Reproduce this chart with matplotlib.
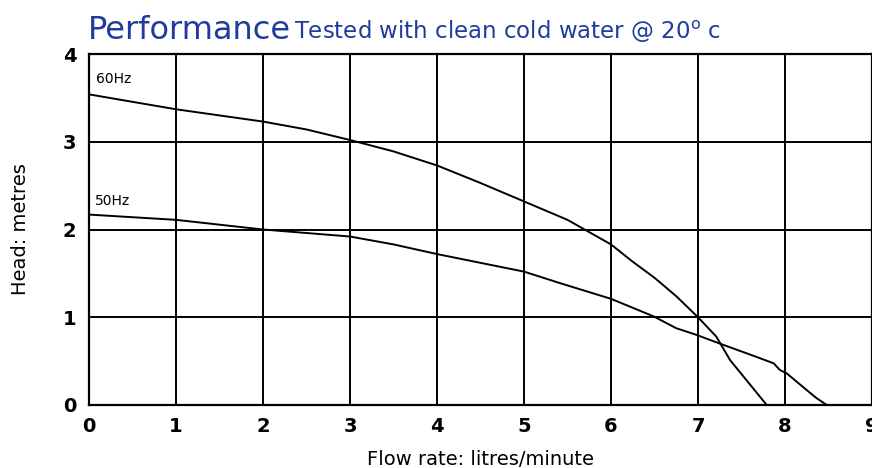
import matplotlib.pyplot as plt
import numpy as np

# performance curves
flow_60 = [0, 1, 2, 2.5, 3, 3.5, 4, 4.5, 5, 5.5, 6, 6.24, 6.5, 6.75, 7, 7.21, 7.37, 7.79]
head_60 = [3.54, 3.37, 3.23, 3.14, 3.02, 2.89, 2.73, 2.53, 2.32, 2.11, 1.83, 1.64, 1.45, 1.24, 1.0, 0.78, 0.51, 0.0]

flow_50 = [0, 1, 2, 3, 3.5, 4, 4.5, 5, 5.41, 6, 6.49, 6.75, 6.98, 7.25, 7.64, 7.87, 7.94, 8.02, 8.25, 8.36, 8.48]
head_50 = [2.17, 2.11, 2.0, 1.92, 1.83, 1.72, 1.62, 1.52, 1.39, 1.21, 1.01, 0.875, 0.80, 0.70, 0.56, 0.475, 0.40, 0.36, 0.17, 0.08, 0.0]

x_ticks = [0, 1, 2, 3, 4, 5, 6, 7, 8, 9]
y_ticks = [0, 1, 2, 3, 4]

fig = plt.figure(figsize=(8.72, 4.68), dpi=100)
ax = fig.add_axes([89/872, 1-405/468, 783/872, 351/468])

ax.plot(flow_60, head_60, color='black', lw=1.4)
ax.plot(flow_50, head_50, color='black', lw=1.4)

ax.set_xlim(0, 9)
ax.set_ylim(0, 4)
ax.set_xticks(x_ticks)
ax.set_yticks(y_ticks)
ax.grid(True, color='black', lw=1.4)
for s in ax.spines.values():
    s.set_linewidth(1.6)
ax.tick_params(length=0, labelsize=14, pad=9)
for lab in ax.get_xticklabels() + ax.get_yticklabels():
    lab.set_fontweight('bold')

ax.text(0.08, 3.67, '60Hz', fontsize=10)
ax.text(0.07, 2.28, '50Hz', fontsize=10)

ax.set_xlabel('Flow rate: litres/minute', fontsize=14, labelpad=10)
ax.set_ylabel('Head: metres', fontsize=14, labelpad=24)

fig.text(88/872, 1-39/468, 'Performance', fontsize=23, color='#1f3c9c')
fig.text(294/872, 1-39/468, r'Tested with clean cold water @ 20$^{\mathrm{o}}$ c', fontsize=16.5, color='#1f3c9c')

plt.savefig('out.png', dpi=100)
